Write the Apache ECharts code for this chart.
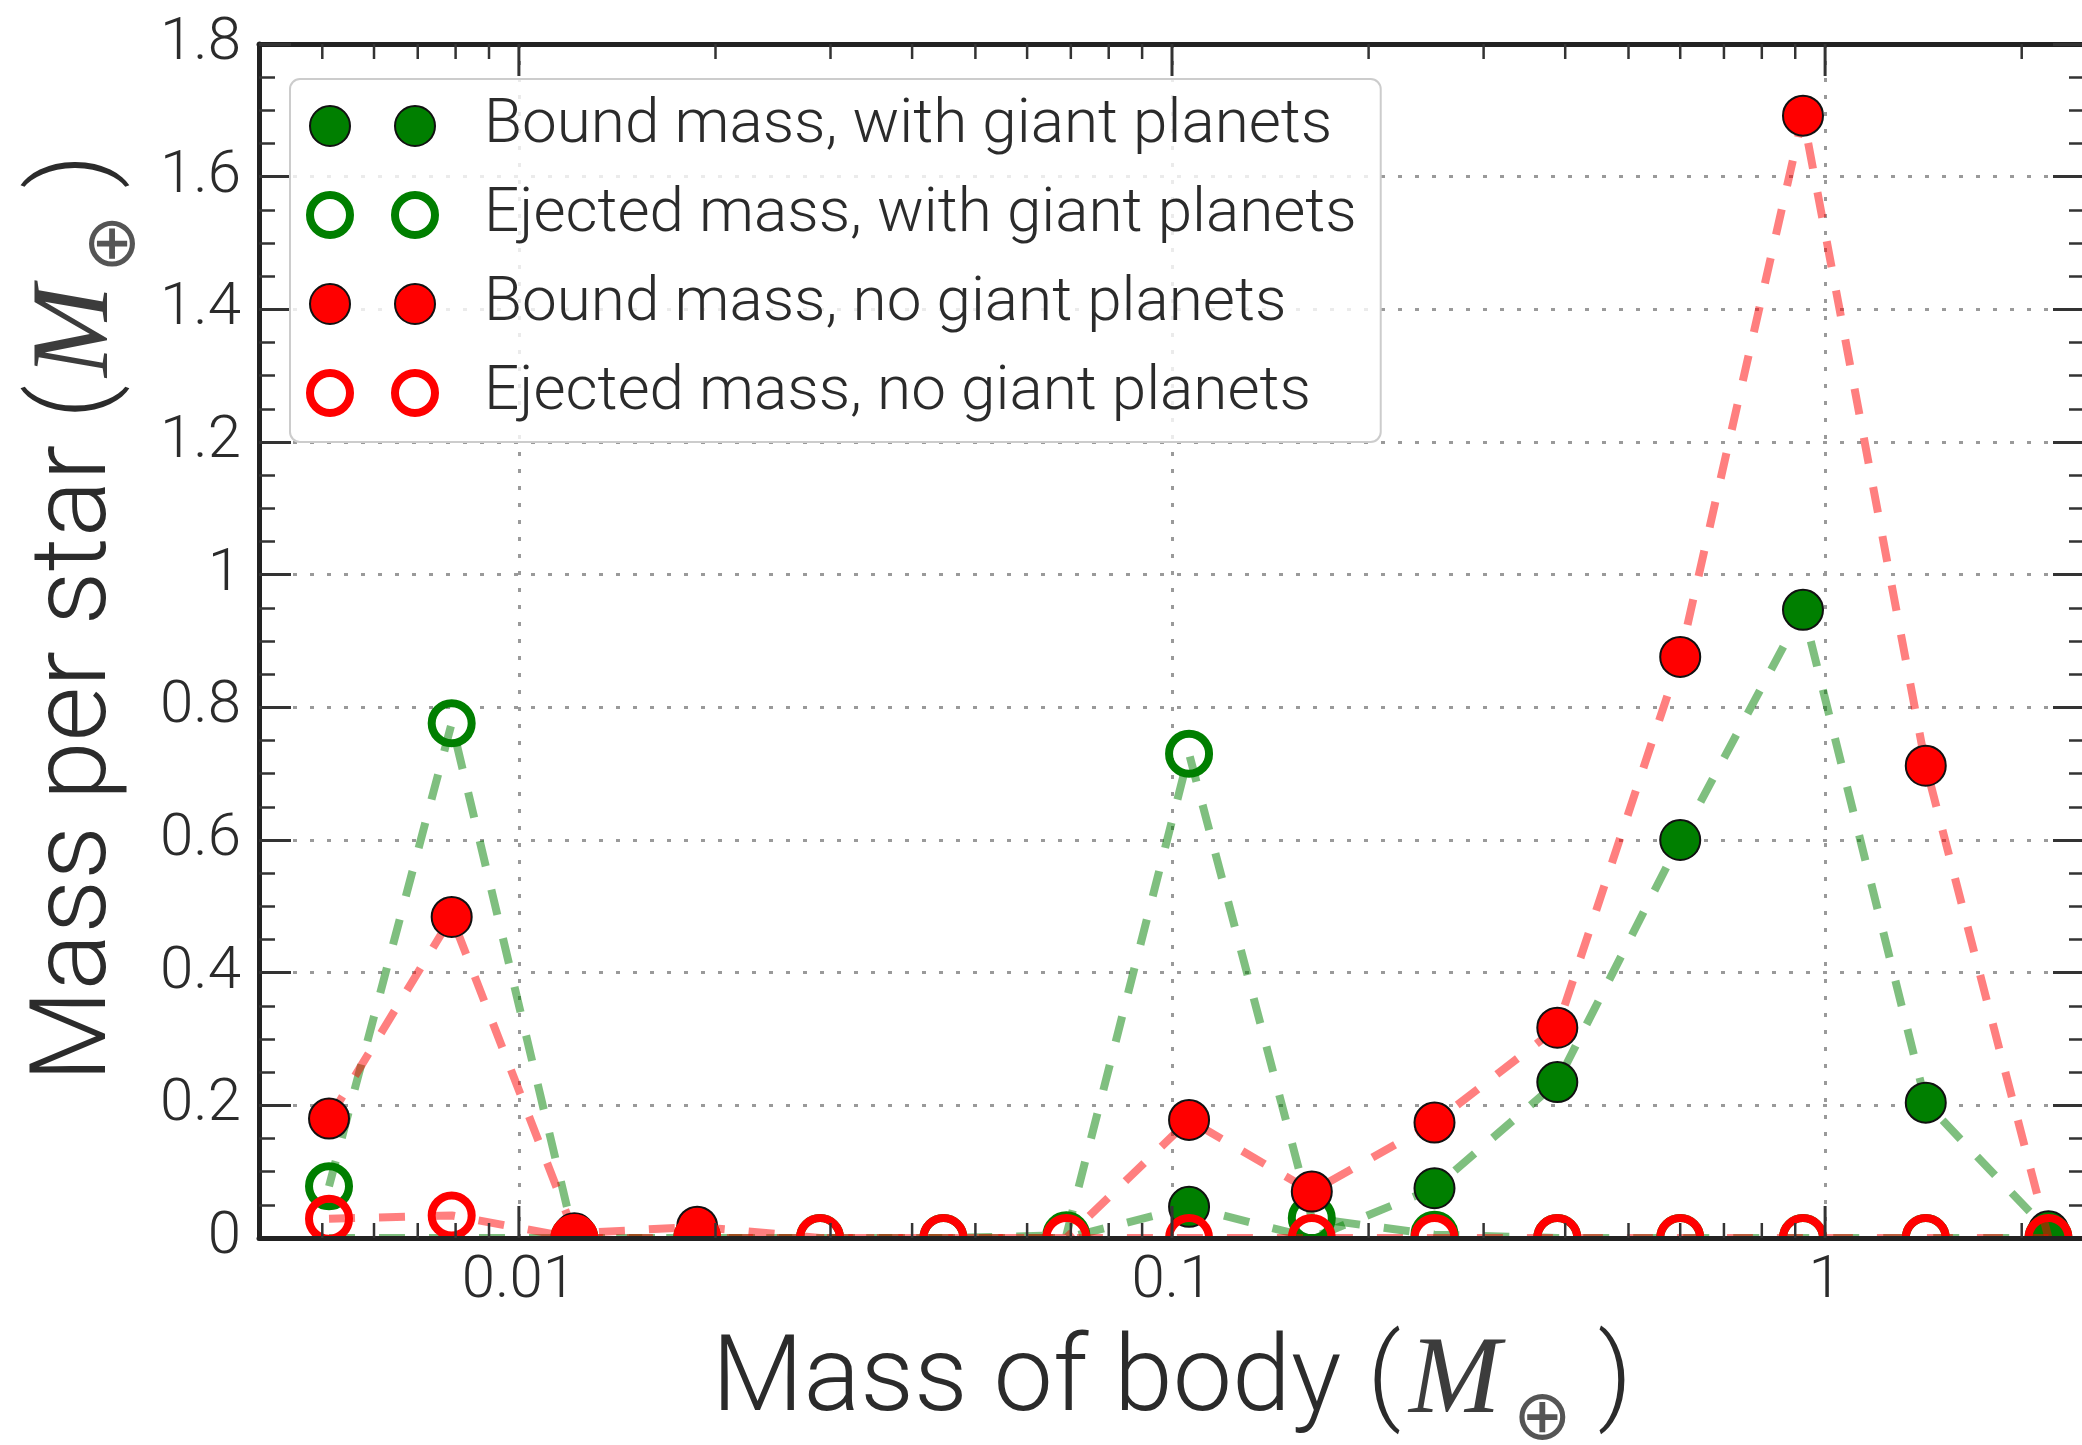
<!DOCTYPE html>
<html>
<head>
<meta charset="utf-8">
<script src="https://cdn.jsdelivr.net/npm/echarts@6/dist/echarts.min.js"></script>
<style>
  html, body { margin: 0; padding: 0; background: #ffffff; }
  #chart { width: 2082px; height: 1445px; }
</style>
</head>
<body>
<div id="chart"></div>
<script>
// Centres of the logarithmic body-mass bins (Earth masses)
const massBins = [0.00512, 0.00789, 0.01216, 0.01875, 0.02891, 0.04467, 0.0689, 0.1062,
                  0.1637, 0.2523, 0.389, 0.600, 0.925, 1.426, 2.198];

// Mass per star in each bin (Earth masses)
const boundWithGiants   = [0, 0, 0, 0, 0, 0, 0, 0.047, 0, 0.075, 0.235, 0.600, 0.947, 0.204, 0.010];
const ejectedWithGiants = [0.078, 0.776, 0, 0, 0, 0, 0.004, 0.730, 0.030, 0.005, 0, 0, 0, 0, 0];
const boundNoGiants     = [0.180, 0.484, 0.007, 0.017, 0, 0, 0, 0.178, 0.070, 0.174, 0.317, 0.876, 1.692, 0.712, 0];
const ejectedNoGiants   = [0.029, 0.034, 0, 0, 0, 0, 0, 0, 0, 0, 0, 0, 0, 0, 0];

const seriesNames = [
  'Bound mass, with giant planets',
  'Ejected mass, with giant planets',
  'Bound mass, no giant planets',
  'Ejected mass, no giant planets'
];

// Axis ranges and tick labels
const xRange = [0.004, 2.5];
const xTickLabels = ['0.01', '0.1', '1'];
const yRange = [0, 1.8];
const yStep = 0.2;

const GREEN = '#007f00';
const RED = '#ff0000';
const INK = '#2b2b2b';
const SANS = 'Roboto, "Liberation Sans", sans-serif';

const GRID = { left: 259, top: 44, width: 1826, height: 1194 };

// Ticks of the log axis: decades (major) and 2..9 times each decade (minor)
const xMajorTicks = xTickLabels.map(Number);
const xMinorTicks = [];
for (let e = -3; e <= 0; e++) {
  for (let m = 2; m <= 9; m++) {
    const v = m * Math.pow(10, e);
    if (v > xRange[0] * 1.0001 && v < xRange[1]) xMinorTicks.push(+v.toPrecision(6));
  }
}
const xTickData = xMajorTicks.map(v => [v, yRange[0], 32])
  .concat(xMinorTicks.map(v => [v, yRange[0], 15]));

const isDecade = v => Math.abs(Math.log10(v) - Math.round(Math.log10(v))) < 1e-6;

// Rich-text pieces for the axis titles: "(M⊕)" with a subscript ⊕
function titleRich(lead) {
  const base = { fontFamily: SANS, fontWeight: 300, fontSize: 106, color: INK };
  return {
    a: Object.assign({}, base, { padding: [0, 0, 0, lead] }),
    t: base,
    p: Object.assign({}, base, { padding: [0, 0, 0, 26] }),
    m: { fontFamily: '"Liberation Serif", serif', fontStyle: 'italic', fontSize: 110, color: '#3c3c3c', padding: [0, 0, 0, 8] },
    s: { fontFamily: '"DejaVu Sans ExtraLight", "DejaVu Sans", sans-serif', fontWeight: 200,
         fontSize: 70, color: '#555555', padding: [76, 0, 0, 12] }
  };
}

function makeSeries(name, values, filled, color, z) {
  return {
    type: 'line',
    name: name,
    data: massBins.map((x, i) => [x, values[i]]),
    symbol: filled ? (v => (v[1] > 0 ? 'circle' : 'none')) : 'circle',
    symbolSize: 40,
    showSymbol: true,
    clip: false,
    z: z,
    itemStyle: filled
      ? { color: color, borderColor: '#111111', borderWidth: 2, opacity: 1 }
      : { color: 'rgba(0,0,0,0)', borderColor: color, borderWidth: 8, opacity: 1 },
    lineStyle: { color: color, width: 8, type: [26, 24], opacity: 0.5 },
    emphasis: { disabled: true },
    silent: true
  };
}

const axisLineStyle = { show: true, onZero: false, lineStyle: { color: '#222222', width: 5 } };
const tickStyle = { show: true, inside: true, length: 32, lineStyle: { color: '#333333', width: 3 } };
const minorTickStyle = { show: true, splitNumber: 4, length: 16, lineStyle: { color: '#333333', width: 2.5 } };
const gridLineStyle = { show: true, showMinLine: false, showMaxLine: false,
                        lineStyle: { color: '#9a9a9a', width: 3, type: [4, 13] } };

const chart = echarts.init(document.getElementById('chart'), null, { renderer: 'canvas' });

const option = {
  animation: false,
  backgroundColor: '#ffffff',
  grid: Object.assign({ containLabel: false, outerBoundsMode: 'none' }, GRID),
  xAxis: [
    {
      type: 'log',
      position: 'bottom',
      min: xRange[0],
      max: xRange[1],
      logBase: 10,
      z: 10,
      axisLine: axisLineStyle,
      axisTick: { show: false },
      splitLine: { show: false },
      axisLabel: {
        show: true, margin: 14, showMinLabel: false, showMaxLabel: false,
        fontFamily: SANS, fontWeight: 300, fontSize: 60, color: INK,
        formatter: v => (isDecade(v) ? xTickLabels[xMajorTicks.findIndex(t => Math.abs(t - v) < t * 1e-6)] || '' : '')
      },
      name: '{t|Mass of body (}{m|M}{s|⊕}{p|)}',
      nameLocation: 'middle',
      nameGap: 72,
      nameMoveOverlap: false,
      nameTextStyle: { rich: titleRich(0) }
    },
    {
      type: 'log',
      position: 'top',
      min: xRange[0],
      max: xRange[1],
      logBase: 10,
      axisLine: axisLineStyle,
      axisTick: { show: false },
      axisLabel: { show: false },
      splitLine: gridLineStyle
    }
  ],
  yAxis: [
    {
      type: 'value',
      position: 'left',
      min: yRange[0],
      max: yRange[1],
      interval: yStep,
      axisLine: axisLineStyle,
      axisTick: tickStyle,
      minorTick: minorTickStyle,
      splitLine: gridLineStyle,
      axisLabel: { margin: 18, fontFamily: SANS, fontWeight: 300, fontSize: 60, color: INK },
      name: '{a|Mass per star (}{m|M}{s|⊕}{p|)}',
      nameLocation: 'middle',
      nameGap: 108,
      nameRotate: 90,
      nameMoveOverlap: false,
      nameTextStyle: { rich: titleRich(46) }
    },
    {
      type: 'value',
      position: 'right',
      min: yRange[0],
      max: yRange[1],
      interval: yStep,
      axisLine: axisLineStyle,
      axisTick: tickStyle,
      minorTick: minorTickStyle,
      axisLabel: { show: false },
      splitLine: { show: false }
    }
  ],
  legend: {
    data: seriesNames.map((n, i) => ({
      name: n,
      itemStyle: { borderWidth: i % 2 === 0 ? 2 : 8 }
    })),
    orient: 'vertical',
    left: 290,
    top: 79,
    icon: 'path://M0,20A20,20 0 1,1 40,20A20,20 0 1,1 0,20Z M85,20A20,20 0 1,1 125,20A20,20 0 1,1 85,20Z',
    itemWidth: 125,
    itemHeight: 40,
    itemGap: 27,
    padding: [16, 24, 18, 16],
    backgroundColor: 'rgba(255,255,255,0.8)',
    borderColor: '#cccccc',
    borderWidth: 2,
    borderRadius: 10,
    selectedMode: false,
    z: 12,
    textStyle: { fontFamily: SANS, fontWeight: 300, fontSize: 62, lineHeight: 62, color: INK, padding: [0, 0, 0, 44] }
  },
  series: [
    makeSeries(seriesNames[0], boundWithGiants, true, GREEN, 2),
    makeSeries(seriesNames[1], ejectedWithGiants, false, GREEN, 3),
    makeSeries(seriesNames[2], boundNoGiants, true, RED, 4),
    makeSeries(seriesNames[3], ejectedNoGiants, false, RED, 5),
    {
      // ticks of the log axis on the bottom and top frame, pointing inward
      type: 'custom',
      data: xTickData,
      encode: { x: 0, y: 1 },
      clip: false,
      silent: true,
      z: 11,
      renderItem: (params, api) => {
        const v = api.value(0);
        const len = api.value(2);
        const b = api.coord([v, yRange[0]]);
        const t = api.coord([v, yRange[1]]);
        const st = { stroke: '#333333', lineWidth: len > 20 ? 3 : 2.5 };
        return {
          type: 'group',
          children: [
            { type: 'line', shape: { x1: b[0], y1: b[1], x2: b[0], y2: b[1] - len }, style: st },
            { type: 'line', shape: { x1: t[0], y1: t[1], x2: t[0], y2: t[1] + len }, style: st }
          ]
        };
      }
    }
  ],
  graphic: {
    elements: [
      {
        // keeps markers sitting on the x axis clipped at the frame
        type: 'rect',
        silent: true,
        z: 8,
        shape: { x: GRID.left + 3, y: GRID.top + GRID.height + 2.5, width: GRID.width, height: 26 },
        style: { fill: '#ffffff' }
      }
    ]
  }
};

chart.setOption(option);
</script>
</body>
</html>
